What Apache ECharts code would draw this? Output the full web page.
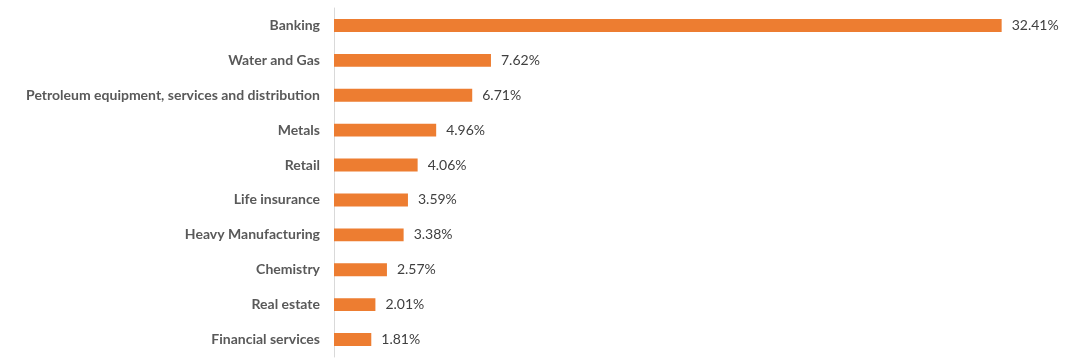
<!DOCTYPE html>
<html><head><meta charset="utf-8">
<script src="https://cdn.jsdelivr.net/npm/echarts@6/dist/echarts.min.js"></script>
<style>html,body{margin:0;padding:0;background:#fff}#c{width:1073px;height:363px}</style>
</head><body><div id="c"></div>
<script>
const categories = ["Banking","Water and Gas","Petroleum equipment, services and distribution","Metals","Retail","Life insurance","Heavy Manufacturing","Chemistry","Real estate","Financial services"];
const values = [32.41,7.62,6.71,4.96,4.06,3.59,3.38,2.57,2.01,1.81];
const chart = echarts.init(document.getElementById('c'), null, {renderer:'canvas'});
chart.setOption({
  animation:false,
  backgroundColor:'#fff',
  grid:{left:334,right:18,top:8,bottom:6,containLabel:false},
  xAxis:{type:'value',min:0,max:35,show:false},
  yAxis:{type:'category',inverse:true,data:categories,
    axisLine:{show:true,lineStyle:{color:'#d9d9d9',width:1}},
    axisTick:{show:false},
    axisLabel:{margin:14,color:'#595959',fontFamily:'Lato',fontWeight:'bold',fontSize:14}},
  series:[{type:'bar',data:values,barWidth:'37%',itemStyle:{color:'#ED7D31'},
    label:{show:true,position:'right',distance:10,color:'#404040',fontFamily:'Lato',fontSize:14,
      formatter:p=>p.value.toFixed(2)+'%'}}]
});
</script></body></html>
